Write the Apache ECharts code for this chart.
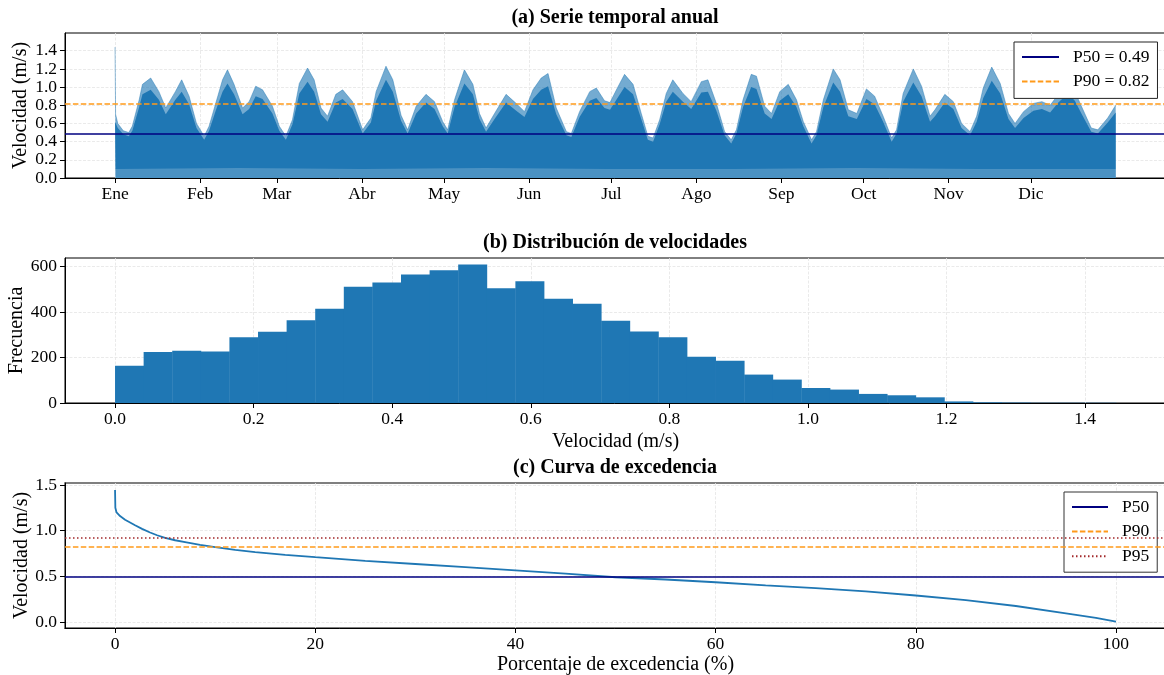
<!DOCTYPE html>
<html>
<head>
<meta charset="utf-8">
<script src="https://cdn.jsdelivr.net/npm/echarts@6/dist/echarts.min.js"></script>
<style>html,body{margin:0;padding:0;background:#fff}#chart{width:1164px;height:675px}</style>
</head>
<body>
<div id="chart"></div>
<script>
// ---------- data ----------
const monthNames = ['Ene','Feb','Mar','Abr','May','Jun','Jul','Ago','Sep','Oct','Nov','Dic'];
const monthStartDays = [0,31,59,90,120,151,181,212,243,273,304,334];

// (a) hourly speed series summarised as envelopes (day of year)
const envDays = [0,0.2,1,3,5,6.3,8.8,10,13,16,18.5,22,24.3,27,29.7,32.5,34.3,36.7,39.2,41,43.4,46.5,48.9,51.3,53.8,57.4,59.9,62.3,64.7,67.2,70.2,72.6,75.1,77.5,80.5,83,86.6,90.3,93.3,95.2,98.8,101.3,104.3,106.7,109.8,113.4,116.5,119.5,121.3,123.8,127.4,130.5,132.9,135.3,138.4,142.6,146.3,149.3,152.4,155.4,157.9,160.9,164.6,166.4,169.4,173.1,175.5,178.5,180.5,183,185.8,188.9,191.9,194.3,196.2,198.6,201,203.4,207.1,210.1,213.8,216.2,219.3,222.3,224.7,226.6,229,232,233.9,236.9,239.4,242.4,245.5,248.5,251,254,255.8,258.3,261.9,264.4,267.4,270.5,274,277,280.1,283.2,285,287.4,291.1,294.1,297.2,299,302.6,305.7,308.7,311.8,314.2,316.6,319.7,322.8,325.8,328.2,331.3,334.9,338,341,344,347.5,350,352.4,356,358.4,362,364.9];
// upper envelope (peaks of the hourly spikes)
const envUpper = [1.44,0.70,0.60,0.52,0.50,0.57,0.86,1.03,1.10,0.95,0.77,0.95,1.08,0.90,0.60,0.46,0.57,0.82,1.08,1.19,1.03,0.77,0.84,1.01,0.97,0.79,0.57,0.46,0.64,1.04,1.21,1.08,0.77,0.68,0.92,0.97,0.84,0.53,0.66,0.95,1.23,1.08,0.69,0.53,0.79,0.92,0.84,0.62,0.53,0.86,1.19,1.03,0.71,0.55,0.71,0.92,0.82,0.73,0.97,1.10,1.15,0.77,0.51,0.49,0.73,0.95,0.99,0.85,0.83,0.98,1.14,1.03,0.71,0.46,0.44,0.64,0.93,1.08,0.93,0.84,1.06,1.08,0.82,0.51,0.42,0.53,0.86,1.14,1.12,0.79,0.71,0.95,1.03,0.86,0.62,0.42,0.51,0.86,1.20,1.08,0.75,0.71,0.98,0.90,0.68,0.44,0.53,0.93,1.20,1.01,0.68,0.75,0.92,0.84,0.60,0.51,0.68,0.99,1.22,1.04,0.71,0.60,0.73,0.82,0.84,0.80,0.92,1.05,0.95,0.79,0.55,0.53,0.66,0.80];
// top of the dense (dark) core of the band
const envCore = [0.62,0.62,0.55,0.48,0.46,0.52,0.78,0.92,0.97,0.86,0.70,0.86,0.95,0.81,0.55,0.42,0.52,0.74,0.95,1.04,0.92,0.70,0.76,0.90,0.87,0.71,0.52,0.42,0.59,0.93,1.06,0.95,0.70,0.62,0.83,0.87,0.76,0.49,0.61,0.85,1.08,0.95,0.63,0.49,0.71,0.83,0.76,0.57,0.49,0.78,1.04,0.92,0.65,0.51,0.65,0.83,0.74,0.67,0.87,0.97,1.01,0.70,0.47,0.45,0.67,0.85,0.88,0.77,0.75,0.87,1.00,0.92,0.65,0.42,0.40,0.59,0.84,0.95,0.84,0.76,0.94,0.95,0.74,0.47,0.38,0.49,0.78,1.00,0.98,0.71,0.65,0.85,0.92,0.78,0.57,0.38,0.47,0.78,1.05,0.95,0.68,0.65,0.87,0.81,0.62,0.40,0.49,0.84,1.05,0.90,0.62,0.68,0.83,0.76,0.55,0.47,0.62,0.88,1.07,0.93,0.65,0.55,0.66,0.74,0.76,0.72,0.83,0.93,0.85,0.71,0.51,0.49,0.61,0.72];
// lower, sparser part of the band (spikes towards zero)
const lowDays = [0,45,90,135,180,225,270,315,365];
const lowValues = [0.10,0.11,0.10,0.11,0.10,0.10,0.11,0.10,0.10];

const P50 = 0.49, P90 = 0.82, P95 = 0.92;

// (b) histogram
const histBinWidth = 0.04127;
const histCounts = [164,224,230,227,289,314,364,415,512,530,565,584,609,505,536,459,437,362,315,289,204,186,125,103,66,59,40,34,25,7,3,2,1,1,1];

// (c) exceedance curve
const excPct = [0,0.03,0.15,0.5,1.0,1.5,2.0,2.7,3.5,4.2,5.0,6.0,7.0,8.5,10,12,14,17,20,25,30,35,40,45,50,55,60,65,70,75,80,85,90,95,98,100];
const excVel = [1.445,1.25,1.20,1.16,1.12,1.09,1.06,1.02,0.98,0.95,0.92,0.895,0.875,0.845,0.82,0.79,0.765,0.735,0.71,0.67,0.635,0.60,0.565,0.53,0.49,0.465,0.435,0.40,0.37,0.335,0.29,0.24,0.175,0.095,0.045,0.005];

// ---------- styling ----------
const FONT = '"Liberation Serif","Times New Roman",serif';
const BLUE = '#1f77b4', NAVY = '#000080', ORANGE = '#ff9a1a', DARKRED = '#a3292b';
const gridLine = {show:true, lineStyle:{color:'#e4e4e4', width:0.8, type:[3,1.5]}};
const labelStyle = {color:'#000', fontFamily:FONT, fontSize:17.5};
const nameStyle = {color:'#000', fontFamily:FONT, fontSize:20};

function xAxis(gridIndex, min, max, ticks, fmt, name, nameGap){
  return {type:'value', gridIndex, min, max,
    axisLine:{show:true, onZero:false, lineStyle:{color:'#000', width:1}},
    axisTick:{show:true, length:5, customValues:ticks, lineStyle:{color:'#000'}},
    axisLabel:Object.assign({customValues:ticks, margin:7, formatter:fmt}, labelStyle),
    splitLine:gridLine,
    name, nameLocation:'middle', nameGap, nameMoveOverlap:false, nameTextStyle:nameStyle};
}
function yAxis(gridIndex, min, max, ticks, fmt, name, nameGap){
  return {type:'value', gridIndex, min, max,
    axisLine:{show:true, onZero:false, lineStyle:{color:'#000', width:1}},
    axisTick:{show:true, length:5, customValues:ticks, lineStyle:{color:'#000'}},
    axisLabel:Object.assign({customValues:ticks, margin:8, formatter:fmt}, labelStyle),
    splitLine:gridLine,
    name, nameLocation:'middle', nameGap, nameRotate:90, nameMoveOverlap:false, nameTextStyle:nameStyle};
}
function hLine(name, value, color, type, xi, yi){
  return {name, type:'line', xAxisIndex:xi, yAxisIndex:yi, data:[], symbol:'none', z:5,
    color, lineStyle:{color, width:1.5, type},
    markLine:{silent:true, symbol:['none','none'], label:{show:false}, animation:false,
      lineStyle:{color, width:1.5, type}, data:[{yAxis:value}]}};
}

const chart = echarts.init(document.getElementById('chart'), null, {renderer:'canvas'});
const fix1 = v => v.toFixed(1);
const legendCommon = {orient:'vertical', itemHeight:14, backgroundColor:'#fff', borderWidth:1,
  borderRadius:0, selectedMode:false, itemStyle:{opacity:0},
  textStyle:{fontFamily:FONT, fontSize:17.5, color:'#000', lineHeight:18, padding:[0,0,0,9]}};
const gridCommon = {left:65, right:-2, height:145, show:true, borderWidth:1, backgroundColor:'transparent',
  outerBoundsMode:'none', containLabel:false};

const option = {
  animation:false,
  backgroundColor:'#fff',
  graphic:[
    {type:'text', x:615, y:18, style:{text:'(a) Serie temporal anual', font:'bold 20px '+FONT, fill:'#000', textAlign:'center', textVerticalAlign:'middle'}},
    {type:'text', x:615, y:243, style:{text:'(b) Distribución de velocidades', font:'bold 20px '+FONT, fill:'#000', textAlign:'center', textVerticalAlign:'middle'}},
    {type:'text', x:615, y:468, style:{text:'(c) Curva de excedencia', font:'bold 20px '+FONT, fill:'#000', textAlign:'center', textVerticalAlign:'middle'}}
  ],
  grid:[
    Object.assign({}, gridCommon, {top:33, borderColor:'#000'}),
    Object.assign({}, gridCommon, {top:258, borderColor:'#000'}),
    Object.assign({}, gridCommon, {top:483, borderColor:'#555', borderWidth:1.5})
  ],
  xAxis:[
    xAxis(0, -18.25, 383.25, monthStartDays, v => monthNames[monthStartDays.indexOf(v)] || '', '', 0),
    xAxis(1, -0.0722, 1.5167, [0,0.2,0.4,0.6,0.8,1.0,1.2,1.4], fix1, 'Velocidad (m/s)', 28.5),
    xAxis(2, -5, 105, [0,20,40,60,80,100], v => String(v), 'Porcentaje de excedencia (%)', 27)
  ],
  yAxis:[
    yAxis(0, 0, 1.595, [0,0.2,0.4,0.6,0.8,1.0,1.2,1.4], fix1, 'Velocidad (m/s)', 34),
    yAxis(1, 0, 638, [0,200,400,600], v => String(v), 'Frecuencia', 38.5),
    yAxis(2, -0.066, 1.522, [0,0.5,1.0,1.5], fix1, 'Velocidad (m/s)', 33)
  ],
  legend:[
    Object.assign({}, legendCommon, {data:['P50 = 0.49','P90 = 0.82'], left:1014, top:42, itemWidth:37, itemGap:6.4, padding:[6,8,8,7], borderColor:'#222'}),
    Object.assign({}, legendCommon, {data:['P50','P90','P95'], left:1064, top:492, itemWidth:36, itemGap:6.6, padding:[6,8,7,7], borderColor:'#333'})
  ],
  series:[
    {name:'outer', type:'line', xAxisIndex:0, yAxisIndex:0, symbol:'none', silent:true, z:2,
     data:envDays.map((d,i)=>[d, envUpper[i]]),
     lineStyle:{color:'rgba(31,119,180,0.75)', width:0.6}, areaStyle:{color:'rgba(31,119,180,0.62)', opacity:1}},
    {name:'core', type:'line', xAxisIndex:0, yAxisIndex:0, symbol:'none', silent:true, z:3,
     data:envDays.map((d,i)=>[d, envCore[i]]),
     lineStyle:{width:0}, areaStyle:{color:BLUE, opacity:1}},
    {name:'low', type:'line', xAxisIndex:0, yAxisIndex:0, symbol:'none', silent:true, z:4,
     data:lowDays.map((d,i)=>[d, lowValues[i]]),
     lineStyle:{width:0}, areaStyle:{color:'rgba(255,255,255,0.2)', opacity:1}},
    hLine('P50 = 0.49', P50, NAVY, 'solid', 0, 0),
    hLine('P90 = 0.82', P90, ORANGE, [5.5,2.4], 0, 0),
    {name:'hist', type:'custom', xAxisIndex:1, yAxisIndex:1, silent:true,
     data:histCounts.map((c,i)=>[i*histBinWidth, (i+1)*histBinWidth, c]),
     encode:{x:[0,1], y:2},
     renderItem:(params, api)=>{
       const p0 = api.coord([api.value(0), api.value(2)]);
       const p1 = api.coord([api.value(1), 0]);
       return {type:'rect', shape:{x:p0[0], y:p0[1], width:p1[0]-p0[0]+0.4, height:p1[1]-p0[1]},
               style:{fill:BLUE}};
     }},
    {name:'exc', type:'line', xAxisIndex:2, yAxisIndex:2, symbol:'none', silent:true, z:3,
     data:excPct.map((p,i)=>[p, excVel[i]]), lineStyle:{color:BLUE, width:1.8}},
    hLine('P50', P50, NAVY, 'solid', 2, 2),
    hLine('P90', P90, ORANGE, [5.5,2.4], 2, 2),
    hLine('P95', P95, DARKRED, [1.5,2.5], 2, 2)
  ]
};
chart.setOption(option);
</script>
</body>
</html>
